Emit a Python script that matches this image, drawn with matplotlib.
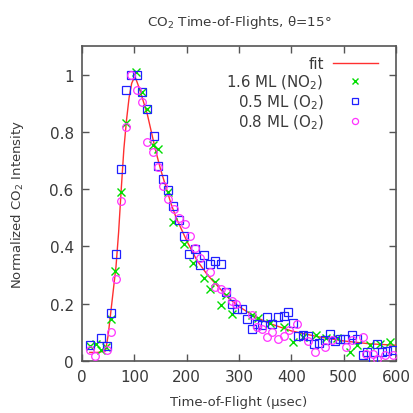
#!/usr/bin/env python3
import numpy as np
import matplotlib
matplotlib.use('Agg')
import matplotlib.pyplot as plt

# fit curve
fit_t = [15, 30, 45, 50, 55, 60, 65, 70, 75, 80, 85, 90, 95, 100, 103, 106,
         110, 115, 120, 125, 130, 140, 150, 160, 170, 180, 190, 200, 220, 240,
         260, 280, 300, 330, 360, 400, 450, 500, 550, 600]
fit_y = [0.03, 0.03, 0.035, 0.09, 0.17, 0.25, 0.33, 0.45, 0.6, 0.74, 0.84,
         0.92, 0.97, 0.99, 0.985, 0.97, 0.95, 0.92, 0.89, 0.86, 0.82, 0.74,
         0.67, 0.61, 0.55, 0.5, 0.46, 0.42, 0.35, 0.3, 0.26, 0.22, 0.19,
         0.155, 0.13, 0.105, 0.085, 0.07, 0.06, 0.055]

# 1.6 ML (NO2)
no2_t = [15, 26, 37, 46, 55, 64, 74, 85, 104, 115, 125, 136, 146, 165, 174,
         195, 213, 233, 245, 254, 266, 276, 286, 324, 336, 359, 385, 404, 423,
         448, 467, 487, 512, 525, 550, 569, 588]
no2_y = [0.054, 0.06, 0.04, 0.05, 0.147, 0.316, 0.59, 0.832, 1.01, 0.94, 0.88,
         0.756, 0.74, 0.59, 0.487, 0.407, 0.343, 0.29, 0.25, 0.275, 0.195,
         0.23, 0.165, 0.161, 0.15, 0.132, 0.117, 0.065, 0.083, 0.09, 0.08,
         0.08, 0.03, 0.055, 0.055, 0.06, 0.065]

# 0.5 ML (O2)
o2a_t = [15, 36, 47, 55, 65, 74, 85, 94, 106, 115, 125, 138, 145, 155, 165,
         174, 185, 195, 205, 215, 225, 234, 245, 254, 266, 275, 286, 296, 305,
         315, 324, 334, 343, 353, 363, 375, 385, 394, 404, 413, 423, 432, 443,
         453, 464, 474, 484, 493, 503, 515, 525, 536, 545, 555, 564, 574, 583,
         594]
o2a_y = [0.056, 0.079, 0.054, 0.167, 0.374, 0.669, 0.945, 1.0, 1.0, 0.94,
         0.88, 0.786, 0.68, 0.635, 0.597, 0.54, 0.494, 0.435, 0.374, 0.39,
         0.336, 0.37, 0.337, 0.35, 0.34, 0.24, 0.2, 0.183, 0.18, 0.145, 0.113,
         0.128, 0.126, 0.152, 0.128, 0.152, 0.157, 0.17, 0.134, 0.089, 0.09,
         0.089, 0.059, 0.062, 0.074, 0.094, 0.07, 0.078, 0.078, 0.09, 0.078,
         0.021, 0.03, 0.003, 0.06, 0.03, 0.036, 0.04]

# 0.8 ML (O2)
o2b_t = [15, 25, 47, 55, 65, 74, 85, 94, 106, 115, 125, 136, 146, 155, 165,
         176, 185, 196, 206, 215, 225, 245, 254, 265, 275, 286, 295, 324, 334,
         343, 353, 363, 375, 385, 396, 411, 432, 446, 464, 477, 504, 515, 536,
         543, 555, 564, 578, 594]
o2b_y = [0.04, 0.019, 0.04, 0.103, 0.287, 0.56, 0.816, 1.0, 0.945, 0.905,
         0.763, 0.73, 0.676, 0.61, 0.565, 0.53, 0.498, 0.477, 0.437, 0.396,
         0.36, 0.31, 0.26, 0.25, 0.24, 0.21, 0.2, 0.16, 0.12, 0.112, 0.083,
         0.1, 0.077, 0.089, 0.108, 0.13, 0.07, 0.03, 0.048, 0.073, 0.048,
         0.073, 0.085, 0.025, 0.025, 0.007, 0.02, 0.02]

txt = '#3a3a3a'
plt.rcParams['font.family'] = 'DejaVu Sans'

fig = plt.figure(figsize=(4.13, 4.14), dpi=100)
ax = fig.add_axes([0.1985, 0.1256, 0.7605, 0.7609])

ax.plot(fit_t, fit_y, '-', color='#ff3030', lw=1.0, label='fit', zorder=3)
ax.plot(no2_t, no2_y, 'x', color='#00dd00', ms=5.5, mew=1.0,
        label='1.6 ML (NO$_2$)', zorder=4)
ax.plot(o2a_t, o2a_y, 's', color='#2020ff', mfc='none', ms=5.2, mew=0.9,
        label='0.5 ML (O$_2$)', zorder=4)
ax.plot(o2b_t, o2b_y, 'o', color='#ff33ff', mfc='none', ms=5.5, mew=0.9,
        label='0.8 ML (O$_2$)', zorder=4)

ax.set_xlim(0, 600)
ax.set_ylim(0, 1.1)
ax.set_xticks(np.arange(0, 601, 100))
ax.set_yticks([0, 0.2, 0.4, 0.6, 0.8, 1.0])
ax.set_yticklabels(['0', '0.2', '0.4', '0.6', '0.8', '1'])
ax.tick_params(direction='in', top=True, right=True, length=5, width=1,
               color='#555555', labelcolor=txt, labelsize=11, pad=6)
for s in ax.spines.values():
    s.set_color('#555555')
    s.set_linewidth(1.2)

ax.set_title('CO$_2$ Time-of-Flights, θ=15°', fontsize=9.7, color=txt, pad=15)
ax.set_xlabel('Time-of-Flight (µsec)', fontsize=9.5, color=txt, labelpad=8)
ax.set_ylabel('Normalized CO$_2$ Intensity', fontsize=9.5, color=txt,
              labelpad=17)

# gnuplot style key: text on the left, sample on the right
leg = ax.legend(loc='upper right', bbox_to_anchor=(0.975, 1.0),
                frameon=False, markerfirst=False, fontsize=10.8,
                handlelength=3.0, handletextpad=0.6, labelspacing=0.1,
                borderaxespad=0.3, markerscale=0.8)
for t in leg.get_texts():
    t.set_color(txt)
    t.set_ha('right')

fig.savefig('out.png', dpi=100)
